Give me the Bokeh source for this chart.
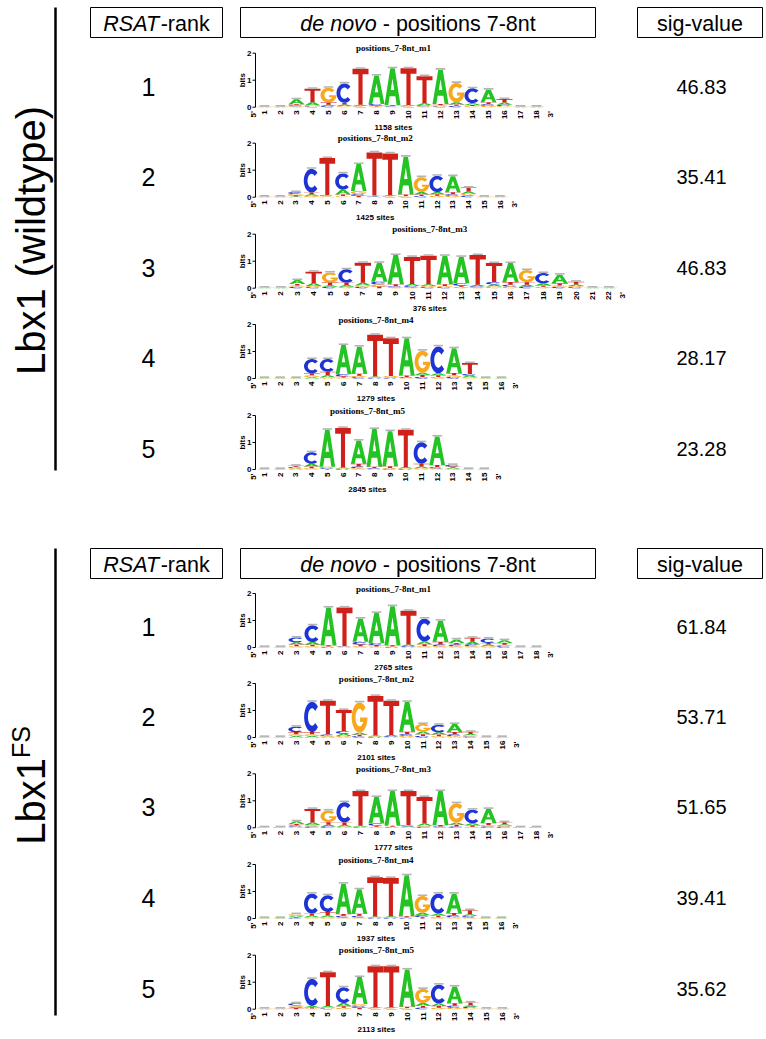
import numpy as np
from bokeh.plotting import figure
from bokeh.models import Range1d, ColumnDataSource
from bokeh.core.properties import value
from bokeh.embed import file_html
from bokeh.resources import INLINE

# ---------------- data ----------------
panel_titles = ["Lbx1 (wildtype)", "Lbx1"]
panel_sup = ["", "FS"]
ranks = [1, 2, 3, 4, 5]
sig_wt = [46.83, 35.41, 46.83, 28.17, 23.28]
sig_fs = [61.84, 53.71, 51.65, 39.41, 35.62]
sites_wt = [1158, 1425, 376, 1279, 2845]
sites_fs = [2765, 2101, 1777, 1937, 2113]
motif_names = ["positions_7-8nt_m1", "positions_7-8nt_m2", "positions_7-8nt_m3",
               "positions_7-8nt_m4", "positions_7-8nt_m5"]
header_rank = ("RSAT", "-rank")
header_motif = ("de novo", " - positions 7-8nt")
header_sig = "sig-value"

# information content (bits) per letter and position
wt_m1 = {
    "A": [.005, .005, .18, .12, .05, .06, .05, 1.05, 1.36, .04, .08, 1.27, .08, .07, .47, .08, .005, .005],
    "C": [.005, .005, .04, .03, .04, .72, .02, .06, .03, .02, .04, .03, .05, .55, .06, .05, .005, .005],
    "G": [.005, .005, .03, .03, .55, .04, .02, .03, .02, .02, .03, .04, .72, .04, .05, .04, .005, .005],
    "T": [.005, .005, .04, .5, .08, .06, 1.33, .03, .03, 1.36, 1.0, .05, .05, .04, .07, .13, .005, .005],
}
wt_m2 = {
    "A": [.005, .005, .03, .06, .02, .18, 1.0, .02, .03, 1.4, .09, .08, .6, .08, .005, .005],
    "C": [.005, .005, .07, .88, .03, .6, .06, .02, .02, .02, .04, .6, .06, .06, .005, .005],
    "G": [.005, .005, .05, .05, .02, .04, .12, .02, .02, .02, .55, .05, .05, .07, .005, .005],
    "T": [.005, .005, .04, .06, 1.38, .06, .05, 1.6, 1.55, .06, .06, .06, .07, .15, .005, .005],
}
wt_m3 = {
    "A": [.005, .005, .14, .1, .06, .07, .1, .7, 1.08, .08, .07, 1.05, .98, .06, .08, .7, .07, .08, .32, .06, .005, .005],
    "C": [.005, .005, .05, .04, .05, .5, .05, .1, .04, .05, .04, .04, .08, .04, .09, .07, .06, .38, .05, .04, .005, .005],
    "G": [.005, .005, .05, .04, .37, .05, .05, .08, .03, .03, .04, .04, .05, .03, .06, .06, .45, .05, .05, .04, .005, .005],
    "T": [.005, .005, .06, .43, .1, .08, .74, .06, .08, 1.0, 1.05, .07, .05, 1.1, .7, .1, .09, .05, .08, .1, .005, .005],
}
wt_m4 = {
    "A": [.005, .005, .005, .05, .07, 1.08, 1.0, .03, .03, 1.38, .08, .07, .92, .06, .005, .005],
    "C": [.005, .005, .005, .53, .47, .08, .05, .02, .02, .03, .06, 1.0, .06, .06, .005, .005],
    "G": [.005, .005, .005, .07, .05, .04, .05, .02, .04, .02, .82, .06, .06, .05, .005, .005],
    "T": [.005, .005, .005, .07, .13, .04, .08, 1.55, 1.4, .06, .07, .06, .08, .4, .005, .005],
}
wt_m5 = {
    "A": [.005, .005, .03, .1, 1.37, .03, .86, 1.4, 1.3, .05, .06, 1.05, .04, .005, .005],
    "C": [.005, .005, .04, .43, .03, .02, .06, .03, .03, .02, .8, .05, .06, .005, .005],
    "G": [.005, .005, .03, .05, .05, .02, .05, .02, .03, .02, .05, .04, .03, .005, .005],
    "T": [.005, .005, .04, .06, .02, 1.47, .1, .05, .06, 1.38, .1, .08, .04, .005, .005],
}
fs_m1 = {
    "A": [.005, .005, .08, .1, 1.4, .02, .86, 1.12, 1.45, .06, .1, .78, .13, .1, .06, .1, .005, .005],
    "C": [.005, .005, .18, .62, .02, .02, .1, .07, .02, .03, .85, .06, .06, .06, .16, .05, .005, .005],
    "G": [.005, .005, .05, .05, .02, .02, .05, .04, .02, .02, .05, .05, .05, .05, .05, .05, .005, .005],
    "T": [.005, .005, .06, .05, .04, 1.42, .06, .05, .04, 1.25, .07, .1, .06, .15, .06, .07, .005, .005],
}
fs_m2 = {
    "A": [.005, .005, .06, .06, .03, .08, .08, .03, .04, 1.11, .1, .08, .3, .05, .005, .005],
    "C": [.005, .005, .2, 1.12, .05, .1, .05, .02, .03, .07, .06, .28, .07, .04, .005, .005],
    "G": [.005, .005, .06, .06, .03, .06, 1.12, .02, .02, .06, .28, .05, .05, .04, .005, .005],
    "T": [.005, .005, .08, .08, 1.25, .78, .05, 1.47, 1.27, .08, .06, .06, .08, .08, .005, .005],
}
fs_m3 = {
    "A": [.005, .005, .1, .1, .06, .06, .04, .98, 1.28, .03, .08, 1.26, .08, .08, .52, .05, .005, .005],
    "C": [.005, .005, .05, .05, .05, .75, .02, .08, .02, .04, .04, .03, .05, .5, .05, .04, .005, .005],
    "G": [.005, .005, .04, .05, .43, .04, .02, .04, .02, .02, .04, .02, .72, .04, .05, .04, .005, .005],
    "T": [.005, .005, .05, .5, .1, .1, 1.28, .04, .04, 1.27, .98, .05, .06, .05, .08, .08, .005, .005],
}
fs_m4 = {
    "A": [.005, .005, .04, .06, .06, 1.12, .9, .03, .04, 1.52, .09, .07, .72, .07, .005, .005],
    "C": [.005, .005, .03, .74, .62, .06, .06, .02, .02, .02, .07, .74, .07, .05, .005, .005],
    "G": [.005, .005, .06, .05, .05, .04, .04, .02, .02, .02, .62, .05, .05, .04, .005, .005],
    "T": [.005, .005, .03, .07, .13, .07, .08, 1.46, 1.42, .04, .05, .06, .08, .15, .005, .005],
}
fs_m5 = {
    "A": [.005, .005, .05, .05, .06, .12, 1.0, .03, .03, 1.38, .1, .09, .62, .06, .005, .005],
    "C": [.005, .005, .08, 1.0, .03, .58, .06, .02, .02, .02, .06, .7, .08, .05, .005, .005],
    "G": [.005, .005, .05, .03, .03, .05, .08, .02, .02, .02, .52, .05, .05, .04, .005, .005],
    "T": [.005, .005, .04, .04, 1.25, .06, .05, 1.52, 1.52, .05, .07, .07, .09, .1, .005, .005],
}
wt_logos = [wt_m1, wt_m2, wt_m3, wt_m4, wt_m5]
fs_logos = [fs_m1, fs_m2, fs_m3, fs_m4, fs_m5]

# ---------------- layout / style ----------------
W, H = 766, 1039
SANS = "Liberation Sans"
SERIF = "Liberation Serif"
COLORS = {"A": "#22c322", "C": "#1c33d6", "G": "#f7a81c", "T": "#d0201a"}
BPX = 27.0          # pixels per bit
AXIS_X = 255.0
POS1_X = 264.0
panel_y0 = [7, 548]
panel_y1 = [470, 1015]
panel_label_y = [240, 785]
wt_bases = [106.7, 196.7, 287.7, 378.0, 469.0]
fs_bases = [647.0, 737.0, 827.3, 918.0, 1008.7]
wt_dx = [16.0, 15.7, 16.4, 15.8, 15.7]
fs_dx = [16.0, 15.85, 16.0, 15.8, 15.85]
box_x = [(90, 222), (240, 595), (637, 762)]
box_h = 30
RANK_X, SIG_X = 148, 701

HELV = {' ': 278, '-': 333, '.': 278, '(': 333, ')': 333, 'A': 667, 'R': 722, 'S': 667,
        'T': 611, 'F': 611, 'L': 556, 'a': 556, 'b': 556, 'd': 556, 'e': 556, 'g': 556,
        'i': 222, 'k': 500, 'l': 222, 'n': 556, 'o': 556, 'p': 556, 'r': 333, 's': 500,
        't': 278, 'u': 556, 'v': 500, 'w': 722, 'x': 500, 'y': 500}


def tw(s, size):
    return sum(HELV.get(c, 556) for c in s) / 1000.0 * size


def ellipse(a0, a1, rx, ry, n=28):
    th = np.radians(np.linspace(a0, a1, n))
    return list(0.5 + rx * np.cos(th)), list(0.5 + ry * np.sin(th))


def letter_rings(L):
    if L == "T":
        return [([0, 1, 1, 0.63, 0.63, 0.37, 0.37, 0], [1, 1, 0.85, 0.85, 0, 0, 0.85, 0.85])]
    if L == "A":
        return [([0, 0.36, 0.64, 1, 0.76, 0.68, 0.32, 0.24], [0, 1, 1, 0, 0, 0.24, 0.24, 0]),
                ([0.39, 0.61, 0.5], [0.41, 0.41, 0.72])]
    if L == "C":
        ox, oy = ellipse(42, 318, 0.5, 0.5)
        ix, iy = ellipse(318, 42, 0.26, 0.29)
        return [(ox + ix, oy + iy)]
    ox, oy = ellipse(42, 360, 0.5, 0.5)
    ix, iy = ellipse(330, 42, 0.26, 0.29)
    return [(ox + [0.53, 0.53] + ix, oy + [0.5, 0.355] + iy)]


SHAPES = {L: letter_rings(L) for L in "ACGT"}

p = figure(width=W, height=H, x_range=Range1d(0, W), y_range=Range1d(H, 0),
           output_backend="svg", toolbar_location=None, min_border=0,
           x_axis_location=None, y_axis_location=None, outline_line_color=None,
           background_fill_color="white")
p.grid.visible = False

letter_src = {L: dict(xs=[], ys=[]) for L in "ACGT"}
err = dict(x0=[], x1=[], y=[])
axl = dict(x0=[], y0=[], x1=[], y1=[])
ytick = dict(x=[], y=[], t=[])
xtick = dict(x=[], y=[], t=[])
bits = dict(x=[], y=[])
primes = dict(x=[], y=[], t=[])
titles = dict(x=[], y=[], t=[])
sites = dict(x=[], y=[], t=[])


def draw_logo(data, base, dx, name, nsites):
    n = len(data["A"])
    for i in range(n):
        stack = sorted([(data[L][i], L) for L in "ACGT"])
        xl = POS1_X + i * dx - dx / 2
        w = dx
        cum = 0.0
        for h, L in stack:
            polys_x, polys_y = [], []
            for rx, ry in SHAPES[L]:
                polys_x.append([xl + u * w for u in rx])
                polys_y.append([base - (cum + v * h) * BPX for v in ry])
            letter_src[L]["xs"].append([polys_x])
            letter_src[L]["ys"].append([polys_y])
            cum += h
        cx = POS1_X + i * dx
        err["x0"].append(cx - 0.3 * dx)
        err["x1"].append(cx + 0.3 * dx)
        err["y"].append(base - cum * BPX - 0.8)
        xtick["x"].append(cx)
        xtick["y"].append(base + 3)
        xtick["t"].append(str(i + 1))
    last = POS1_X + (n - 1) * dx
    # y axis
    axl["x0"] += [AXIS_X]
    axl["y0"] += [base]
    axl["x1"] += [AXIS_X]
    axl["y1"] += [base - 2 * BPX]
    for k in range(3):
        axl["x0"].append(AXIS_X - 3)
        axl["x1"].append(AXIS_X)
        axl["y0"].append(base - k * BPX)
        axl["y1"].append(base - k * BPX)
        ytick["x"].append(AXIS_X - 4)
        ytick["y"].append(base - k * BPX)
        ytick["t"].append(str(k))
    bits["x"].append(AXIS_X - 13)
    bits["y"].append(base - BPX)
    primes["x"] += [POS1_X - 11, last + 14]
    primes["y"] += [base + 4, base + 4]
    primes["t"] += ["5'", "3'"]
    mid = (POS1_X + last) / 2 - 7
    titles["x"].append(mid)
    titles["y"].append(base - 59)
    titles["t"].append(name)
    sites["x"].append(mid)
    sites["y"].append(base + 20)
    sites["t"].append(f"{nsites} sites")


for logos, bases, dxs, nsites in [(wt_logos, wt_bases, wt_dx, sites_wt),
                                   (fs_logos, fs_bases, fs_dx, sites_fs)]:
    for k in range(5):
        draw_logo(logos[k], bases[k], dxs[k], motif_names[k], nsites[k])

for L in "ACGT":
    p.multi_polygons(xs="xs", ys="ys", source=ColumnDataSource(letter_src[L]),
                     fill_color=COLORS[L], line_color=None)
p.segment(x0="x0", x1="x1", y0="y", y1="y", source=ColumnDataSource(err),
          line_color="#b4b4b4", line_width=1.6)
p.segment(x0="x0", y0="y0", x1="x1", y1="y1", source=ColumnDataSource(axl),
          line_color="black", line_width=1)
p.text(x="x", y="y", text="t", source=ColumnDataSource(ytick), text_align="right",
       text_baseline="middle", text_font=value(SANS), text_font_style="bold",
       text_font_size="8px", text_color="black")
p.text(x="x", y="y", text="t", source=ColumnDataSource(xtick), text_align="right",
       text_baseline="middle", angle=np.pi / 2, text_font=value(SANS),
       text_font_style="bold", text_font_size="8px", text_color="black")
p.text(x="x", y="y", text=value("bits"), source=ColumnDataSource(bits), text_align="center",
       text_baseline="middle", angle=np.pi / 2, text_font=value(SANS),
       text_font_style="bold", text_font_size="8px", text_color="black")
p.text(x="x", y="y", text="t", source=ColumnDataSource(primes), text_align="right",
       text_baseline="middle", angle=np.pi / 2, text_font=value(SANS),
       text_font_style="bold", text_font_size="8px", text_color="black")
p.text(x="x", y="y", text="t", source=ColumnDataSource(titles), text_align="center",
       text_baseline="middle", text_font=value(SERIF), text_font_style="bold",
       text_font_size="9px", text_color="black")
p.text(x="x", y="y", text="t", source=ColumnDataSource(sites), text_align="center",
       text_baseline="middle", text_font=value(SANS), text_font_style="bold",
       text_font_size="8px", text_color="black")

# ---------------- panels: headers, ranks, sig-values ----------------
HFS = 21.5
for pi_ in range(2):
    y0 = panel_y0[pi_]
    # vertical bar
    p.segment(x0=[55], y0=[y0], x1=[55], y1=[panel_y1[pi_]], line_color="black", line_width=2.5)
    # header boxes
    p.quad(left=[b[0] for b in box_x], right=[b[1] for b in box_x],
           top=[y0] * 3, bottom=[y0 + box_h] * 3, fill_color=None,
           line_color="black", line_width=1)
    hy = y0 + box_h / 2 + 1
    for (ital, plain), (bx0, bx1) in [(header_rank, box_x[0]), (header_motif, box_x[1])]:
        total = tw(ital, HFS) + tw(plain, HFS)
        sx = (bx0 + bx1) / 2 - total / 2
        lead = len(plain) - len(plain.lstrip(" "))
        p.text(x=[sx], y=[hy], text=[ital], text_align="left", text_baseline="middle",
               text_font=value(SANS), text_font_style="italic", text_font_size=f"{HFS}px",
               text_color="black")
        p.text(x=[sx + tw(ital, HFS) + tw(" " * lead, HFS)], y=[hy], text=[plain.lstrip(" ")],
               text_align="left", text_baseline="middle", text_font=value(SANS),
               text_font_size=f"{HFS}px", text_color="black")
    p.text(x=[(box_x[2][0] + box_x[2][1]) / 2], y=[hy], text=[header_sig], text_align="center",
           text_baseline="middle", text_font=value(SANS), text_font_size=f"{HFS}px",
           text_color="black")
    bases = wt_bases if pi_ == 0 else fs_bases
    sigs = sig_wt if pi_ == 0 else sig_fs
    ry = [b - 20.5 for b in bases]
    p.text(x=[RANK_X] * 5, y=ry, text=[str(r) for r in ranks], text_align="center",
           text_baseline="middle", text_font=value(SANS), text_font_size="25px",
           text_color="black")
    p.text(x=[SIG_X] * 5, y=ry, text=[f"{s:.2f}" for s in sigs], text_align="center",
           text_baseline="middle", text_font=value(SANS), text_font_size="20px",
           text_color="black")
    # rotated panel label
    LFS, SFS = 40, 25
    main, sup = panel_titles[pi_], panel_sup[pi_]
    total = tw(main, LFS) + tw(sup, SFS)
    yb = panel_label_y[pi_] + total / 2
    p.text(x=[30], y=[yb], text=[main], text_align="left", text_baseline="middle",
           angle=np.pi / 2, text_font=value(SANS), text_font_size=f"{LFS}px", text_color="black")
    if sup:
        p.text(x=[30 - 10], y=[yb - tw(main, LFS)], text=[sup], text_align="left",
               text_baseline="middle", angle=np.pi / 2, text_font=value(SANS),
               text_font_size=f"{SFS}px", text_color="black")

open("out.html", "w").write(file_html(p, INLINE))
